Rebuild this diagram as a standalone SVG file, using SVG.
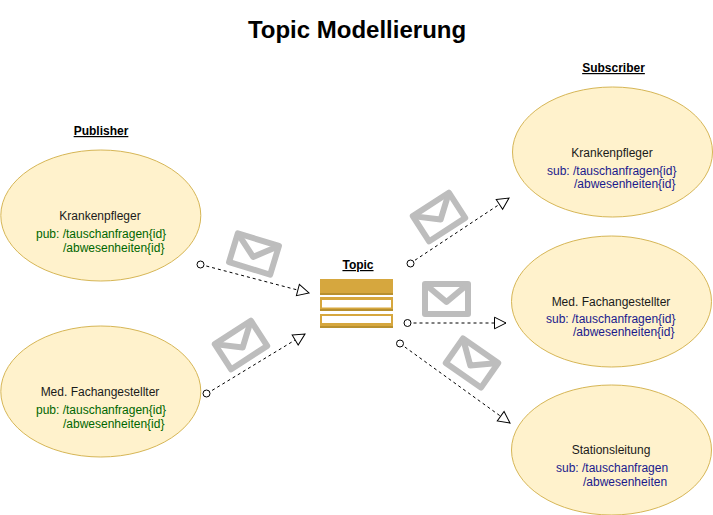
<svg xmlns="http://www.w3.org/2000/svg" width="713" height="515" viewBox="0 0 713 515">
<style>
text{font-family:"Liberation Sans",Arial,sans-serif;font-size:12px;fill:#1a1a1a}
.title{font-size:24px;font-weight:bold;fill:#000;text-anchor:middle}
.head{font-weight:bold;text-decoration:underline;fill:#000;text-anchor:middle}
.name{text-anchor:middle}
.pub{fill:#006600}
.sub{fill:#1a1a8c}
.node{fill:#fff2cc;stroke:#d6b656}
.conn{fill:none;stroke:#000;stroke-dasharray:3 3}
.env{fill:none;stroke:#bdbdbd;stroke-width:6;stroke-linejoin:round}
.dot{fill:#fff;stroke:#000}
.tbar{fill:#d6a73e}
.tdark{fill:#b8902f}
.twhite{fill:#fff}
</style>
<defs>
<marker id="tri" markerWidth="16" markerHeight="14" refX="13" refY="7" orient="auto" markerUnits="userSpaceOnUse"><path d="M1.500 1.200L13 7L1.500 12.800Z" fill="#fff" stroke="#000"/></marker>
<g id="envelope"><rect x="-21.500" y="-15" width="43" height="30"/><path d="M-21.500 -15L0 3L21.500 -15"/></g>
</defs>
<rect width="713" height="515" fill="#fff"/>
<text class="title" x="357" y="38">Topic Modellierung</text>
<text class="head" x="101" y="135">Publisher</text>
<text class="head" x="613.500" y="72">Subscriber</text>
<text class="head" x="358" y="269">Topic</text>
<g id="connectors">
<path class="conn" d="M200.500 264.500L309 293" marker-end="url(#tri)"/>
<path class="conn" d="M207 393.500L305 334" marker-end="url(#tri)"/>
<path class="conn" d="M410 263.500L509 198" marker-end="url(#tri)"/>
<path class="conn" d="M407.500 323H506" marker-end="url(#tri)"/>
<path class="conn" d="M400 343.500L510 423" marker-end="url(#tri)"/>
<circle class="dot" cx="200.500" cy="264.500" r="3.500"/>
<circle class="dot" cx="206.500" cy="393.500" r="3.500"/>
<circle class="dot" cx="410.500" cy="263.500" r="3.500"/>
<circle class="dot" cx="407.500" cy="323" r="3.500"/>
<circle class="dot" cx="400" cy="343.500" r="3.500"/>
</g>
<g id="msg1" class="env"><use href="#envelope" transform="translate(254 254) rotate(17)"/></g>
<g id="msg2" class="env"><use href="#envelope" transform="translate(241 345) rotate(-33)"/></g>
<g id="msg3" class="env"><use href="#envelope" transform="translate(439 217) rotate(-33)"/></g>
<g id="msg4" class="env"><use href="#envelope" transform="translate(446.500 299)"/></g>
<g id="msg5" class="env"><use href="#envelope" transform="translate(472 363) rotate(35)"/></g>
<g id="topic">
<rect class="tbar" x="320" y="279" width="73" height="16"/>
<rect class="tdark" x="320" y="293" width="73" height="2"/>
<rect class="tbar" x="320" y="297" width="73" height="14"/>
<rect class="tdark" x="320" y="309" width="73" height="2"/>
<rect class="twhite" x="322" y="300" width="69" height="7.500"/>
<rect class="tbar" x="320" y="314" width="73" height="14"/>
<rect class="tdark" x="320" y="326" width="73" height="2"/>
<rect class="twhite" x="322" y="316" width="69" height="7"/>
</g>
<g id="pub1">
<ellipse class="node" cx="100.800" cy="215.500" rx="100" ry="65.500"/>
<text class="name" x="100" y="220">Krankenpfleger</text>
<text class="pub" x="36" y="238">pub: /tauschanfragen{id}</text>
<text class="pub" x="63" y="252">/abwesenheiten{id}</text>
</g>
<g id="pub2">
<ellipse class="node" cx="100.800" cy="391.500" rx="100" ry="65.500"/>
<text class="name" x="100" y="396">Med. Fachangestellter</text>
<text class="pub" x="36" y="414">pub: /tauschanfragen{id}</text>
<text class="pub" x="63" y="428">/abwesenheiten{id}</text>
</g>
<g id="sub1">
<ellipse class="node" cx="612.500" cy="152" rx="100" ry="65"/>
<text class="name" x="612" y="157">Krankenpfleger</text>
<text class="sub" x="547" y="175">sub: /tauschanfragen{id}</text>
<text class="sub" x="574" y="188">/abwesenheiten{id}</text>
</g>
<g id="sub2">
<ellipse class="node" cx="611.500" cy="301.500" rx="100" ry="65.500"/>
<text class="name" x="611" y="306">Med. Fachangestellter</text>
<text class="sub" x="546" y="323">sub: /tauschanfragen{id}</text>
<text class="sub" x="573" y="336">/abwesenheiten{id}</text>
</g>
<g id="sub3">
<ellipse class="node" cx="611.500" cy="450" rx="100" ry="65"/>
<text class="name" x="611" y="454">Stationsleitung</text>
<text class="sub" x="556" y="472">sub: /tauschanfragen</text>
<text class="sub" x="583" y="486">/abwesenheiten</text>
</g>
</svg>
